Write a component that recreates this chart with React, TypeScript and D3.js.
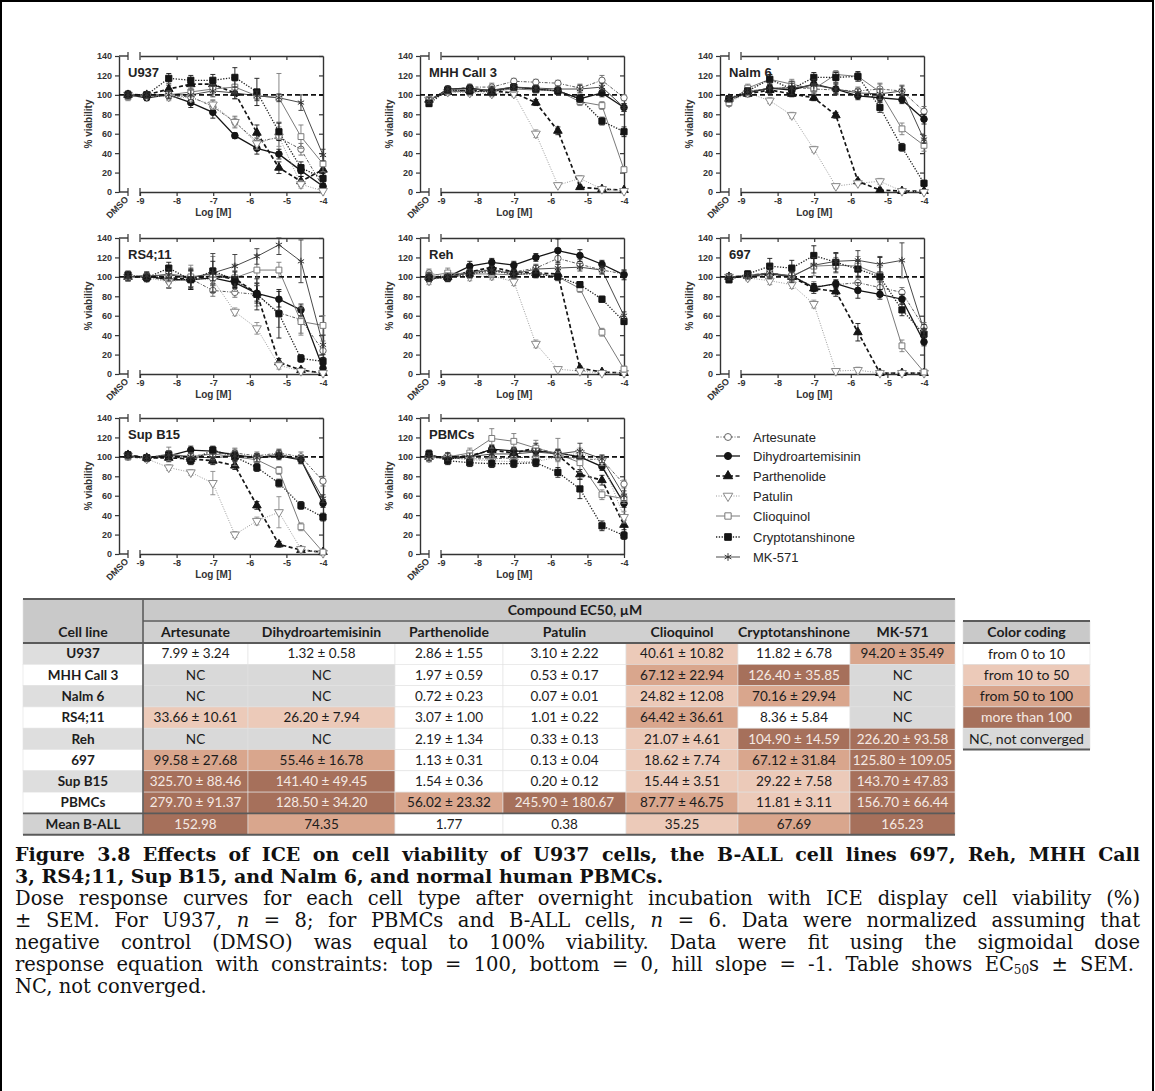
import React, { useRef, useEffect } from 'react';
import * as d3 from 'd3';

const W = 1155;
const H = 1091;

const compounds = ['Artesunate', 'Dihydroartemisinin', 'Parthenolide', 'Patulin', 'Clioquinol', 'Cryptotanshinone', 'MK-571'];
// log10 [M], 1:4 dilutions from 100 uM; the DMSO control sits before the axis break
const logDose = [-8.816, -8.214, -7.612, -7.01, -6.408, -5.806, -5.204, -4.602, -4.0];
const xTicks = [-9, -8, -7, -6, -5, -4];
const yTicks = [0, 20, 40, 60, 80, 100, 120, 140];
const panelNames = ['U937', 'MHH Call 3', 'Nalm 6', 'RS4;11', 'Reh', '697', 'Sup B15', 'PBMCs'];

// % viability, first value is DMSO, rows in `compounds` order
const u937 = [
  [101, 100, 99, 98, 88, 72, 52, 56, 44, 5],
  [100, 97, 100, 92, 82, 58, 45, 39, 22, 6],
  [100, 100, 106, 111, 111, 102, 61, 25, 11, 23],
  [100, 99, 98, 97, 90, 72, 50, 57, 8, 1],
  [98, 100, 100, 103, 106, 108, 99, 97, 57, 29],
  [100, 100, 117, 115, 115, 118, 103, 62, 25, 14],
  [100, 100, 100, 100, 104, 102, 99, 97, 92, 38],
];
const u937Sem = [
  [3, 2, 3, 4, 6, 6, 8, 15, 6, 4],
  [3, 3, 4, 5, 6, 3, 6, 5, 6, 3],
  [3, 3, 4, 5, 5, 6, 8, 6, 5, 6],
  [3, 3, 4, 4, 5, 4, 6, 10, 4, 2],
  [4, 3, 4, 5, 5, 6, 4, 25, 12, 8],
  [4, 3, 5, 5, 6, 10, 14, 9, 6, 5],
  [3, 3, 4, 5, 6, 6, 5, 4, 8, 6],
];
const mhhCall3 = [
  [95, 105, 108, 108, 114, 113, 112, 107, 115, 97],
  [94, 106, 107, 104, 108, 106, 104, 96, 102, 87],
  [95, 103, 105, 104, 102, 92, 63, 5, 3, 2],
  [95, 103, 102, 101, 101, 60, 7, 14, 3, 1],
  [95, 104, 103, 104, 106, 105, 104, 93, 89, 23],
  [91, 105, 104, 103, 108, 106, 104, 96, 73, 62],
  [94, 106, 106, 105, 108, 107, 106, 106, 108, 87],
];
const mhhCall3Sem = [
  [3, 3, 3, 4, 3, 3, 3, 4, 5, 3],
  [3, 3, 3, 4, 3, 3, 3, 4, 4, 4],
  [3, 3, 3, 3, 3, 3, 4, 2, 2, 1],
  [3, 3, 3, 3, 3, 4, 2, 3, 2, 1],
  [3, 3, 3, 4, 3, 3, 3, 4, 4, 3],
  [3, 3, 3, 4, 3, 3, 3, 4, 4, 5],
  [3, 3, 3, 4, 3, 3, 3, 4, 4, 4],
];
const nalm6 = [
  [93, 104, 106, 108, 106, 105, 104, 106, 104, 83],
  [96, 102, 107, 105, 111, 106, 99, 97, 95, 75],
  [96, 101, 105, 101, 97, 79, 11, 2, 1, 1],
  [92, 102, 94, 79, 44, 6, 9, 11, 1, 0],
  [92, 107, 116, 111, 106, 121, 119, 103, 65, 48],
  [96, 104, 116, 106, 118, 118, 119, 87, 46, 9],
  [96, 103, 107, 107, 110, 106, 102, 101, 104, 54],
];
const nalm6Sem = [
  [4, 3, 4, 5, 4, 4, 4, 6, 6, 5],
  [3, 3, 4, 5, 5, 5, 4, 4, 4, 5],
  [3, 3, 3, 3, 3, 3, 2, 1, 1, 1],
  [3, 3, 3, 3, 3, 2, 2, 3, 1, 1],
  [4, 4, 5, 5, 5, 4, 4, 8, 6, 6],
  [3, 3, 5, 6, 5, 5, 5, 5, 4, 3],
  [3, 3, 6, 7, 6, 6, 4, 5, 5, 4],
];
const rs411 = [
  [100, 100, 96, 98, 86, 84, 82, 63, 56, 24],
  [100, 101, 97, 97, 99, 94, 83, 77, 66, 6],
  [100, 100, 99, 98, 101, 98, 83, 12, 4, 1],
  [100, 99, 95, 98, 97, 64, 47, 9, 3, 1],
  [100, 100, 103, 100, 103, 99, 107, 107, 54, 50],
  [102, 99, 109, 97, 106, 97, 82, 62, 16, 13],
  [100, 101, 102, 99, 104, 111, 121, 133, 116, 30],
];
const rs411Sem = [
  [4, 4, 8, 10, 6, 5, 12, 15, 14, 10],
  [4, 4, 8, 10, 8, 6, 8, 8, 6, 3],
  [4, 4, 6, 8, 8, 8, 10, 4, 2, 1],
  [4, 4, 6, 8, 6, 4, 6, 4, 2, 1],
  [4, 4, 8, 12, 18, 14, 16, 8, 14, 10],
  [4, 4, 6, 10, 10, 8, 16, 25, 4, 4],
  [4, 4, 6, 10, 20, 12, 8, 10, 22, 10],
];
const reh = [
  [104, 100, 106, 107, 105, 109, 119, 113, 107, 103],
  [98, 100, 111, 115, 112, 120, 127, 122, 113, 102],
  [100, 100, 105, 110, 105, 104, 103, 6, 2, 1],
  [96, 101, 100, 101, 95, 31, 5, 3, 1, 1],
  [101, 104, 103, 103, 102, 104, 100, 88, 43, 5],
  [99, 99, 103, 106, 103, 103, 100, 92, 77, 54],
  [100, 100, 104, 107, 103, 108, 109, 110, 107, 60],
];
const rehSem = [
  [4, 4, 4, 4, 4, 4, 6, 5, 4, 4],
  [4, 4, 5, 4, 4, 4, 12, 6, 4, 5],
  [4, 4, 4, 4, 4, 4, 4, 2, 1, 1],
  [4, 4, 4, 4, 4, 4, 2, 1, 1, 1],
  [4, 5, 4, 4, 4, 4, 4, 4, 4, 3],
  [4, 4, 4, 4, 4, 4, 3, 3, 3, 3],
  [4, 4, 4, 4, 4, 4, 4, 4, 4, 4],
];
const line697 = [
  [100, 100, 102, 101, 90, 92, 94, 89, 84, 48],
  [99, 101, 103, 101, 89, 93, 86, 82, 77, 33],
  [100, 101, 104, 100, 88, 85, 43, 1, 1, 1],
  [100, 99, 96, 92, 72, 3, 4, 1, 1, 1],
  [100, 101, 104, 101, 111, 112, 111, 102, 29, 2],
  [97, 103, 111, 109, 122, 115, 108, 100, 66, 41],
  [100, 101, 104, 100, 112, 116, 117, 113, 117, 45],
];
const line697Sem = [
  [3, 3, 5, 5, 5, 4, 5, 6, 5, 5],
  [3, 3, 4, 4, 4, 4, 8, 5, 5, 4],
  [3, 3, 5, 4, 5, 5, 9, 1, 1, 1],
  [3, 3, 4, 4, 4, 1, 3, 1, 1, 1],
  [3, 3, 6, 6, 10, 8, 10, 8, 6, 2],
  [3, 3, 8, 8, 10, 10, 8, 20, 6, 6],
  [3, 3, 6, 6, 8, 8, 10, 8, 18, 6],
];
const supB15 = [
  [100, 98, 100, 101, 103, 104, 101, 104, 100, 75],
  [101, 99, 101, 107, 106, 102, 99, 101, 97, 52],
  [102, 99, 99, 98, 96, 91, 50, 10, 4, 2],
  [101, 98, 89, 84, 73, 20, 34, 43, 5, 1],
  [100, 99, 103, 100, 103, 100, 97, 86, 28, 2],
  [102, 99, 102, 96, 107, 100, 89, 73, 50, 38],
  [101, 99, 102, 100, 99, 101, 99, 103, 97, 57],
];
const supB15Sem = [
  [3, 3, 4, 4, 4, 4, 4, 4, 5, 5],
  [3, 3, 4, 4, 4, 4, 4, 4, 4, 4],
  [3, 3, 4, 4, 4, 4, 4, 3, 2, 1],
  [3, 3, 3, 3, 12, 3, 4, 16, 3, 1],
  [3, 3, 7, 4, 6, 9, 4, 4, 4, 2],
  [3, 3, 4, 4, 4, 4, 4, 4, 4, 4],
  [3, 3, 4, 4, 4, 4, 4, 4, 4, 4],
];
const pbmc = [
  [99, 99, 98, 98, 99, 100, 100, 98, 97, 72],
  [102, 98, 100, 108, 106, 106, 104, 100, 90, 52],
  [100, 100, 101, 107, 104, 109, 102, 82, 76, 30],
  [99, 99, 97, 96, 95, 95, 100, 104, 96, 38],
  [100, 100, 104, 119, 116, 109, 103, 94, 61, 57],
  [103, 96, 94, 93, 93, 94, 84, 67, 29, 19],
  [100, 100, 100, 103, 103, 105, 103, 106, 98, 60],
];
const pbmcSem = [
  [4, 4, 4, 4, 4, 4, 4, 4, 4, 4],
  [4, 4, 4, 4, 4, 4, 4, 4, 4, 4],
  [4, 4, 4, 5, 5, 5, 5, 5, 5, 5],
  [4, 4, 4, 5, 5, 5, 5, 5, 5, 6],
  [4, 4, 5, 10, 8, 8, 16, 10, 5, 5],
  [4, 4, 4, 4, 4, 4, 5, 10, 5, 4],
  [4, 4, 4, 4, 4, 4, 4, 8, 4, 5],
];
const panelValues = [u937, mhhCall3, nalm6, rs411, reh, line697, supB15, pbmc];
const panelSem = [u937Sem, mhhCall3Sem, nalm6Sem, rs411Sem, rehSem, line697Sem, supB15Sem, pbmcSem];

// EC50 table (uM); null = not converged
const tableRows = ['U937', 'MHH Call 3', 'Nalm 6', 'RS4;11', 'Reh', '697', 'Sup B15', 'PBMCs', 'Mean B-ALL'];
const ec50Mean = [
  [7.99, 1.32, 2.86, 3.1, 40.61, 11.82, 94.2],
  [null, null, 1.97, 0.53, 67.12, 126.4, null],
  [null, null, 0.72, 0.07, 24.82, 70.16, null],
  [33.66, 26.2, 3.07, 1.01, 64.42, 8.36, null],
  [null, null, 2.19, 0.33, 21.07, 104.9, 226.2],
  [99.58, 55.46, 1.13, 0.13, 18.62, 67.12, 125.8],
  [325.7, 141.4, 1.54, 0.2, 15.44, 29.22, 143.7],
  [279.7, 128.5, 56.02, 245.9, 87.77, 11.81, 156.7],
  [152.98, 74.35, 1.77, 0.38, 35.25, 67.69, 165.23],
];
const ec50Sem = [
  [3.24, 0.58, 1.55, 2.22, 10.82, 6.78, 35.49],
  [null, null, 0.59, 0.17, 22.94, 35.85, null],
  [null, null, 0.23, 0.01, 12.08, 29.94, null],
  [10.61, 7.94, 1.0, 0.22, 36.61, 5.84, null],
  [null, null, 1.34, 0.13, 4.61, 14.59, 93.58],
  [27.68, 16.78, 0.31, 0.04, 7.74, 31.84, 109.05],
  [88.46, 49.45, 0.36, 0.12, 3.51, 7.58, 47.83],
  [91.37, 34.2, 23.32, 180.67, 46.75, 3.11, 66.44],
  [null, null, null, null, null, null, null],
];
// colour band of each cell: 0 = 0-10, 1 = 10-50, 2 = 50-100, 3 = >100, 4 = NC
const ec50Band = ['0000102', '4400234', '4400124', '1100204', '4400133', '2200123', '3300113', '3323213', '3200123'];
const bandLabels = ['from 0 to 10', 'from 10 to 50', 'from 50 to 100', 'more than 100', 'NC, not converged'];

const bandFill = ['#ffffff', '#eccab9', '#d9a68d', '#a6705b', '#d9d9d9'];
const bandInk = ['#1c1c1c', '#1c1c1c', '#1c1c1c', '#f5e9e3', '#1c1c1c'];

const starSymbol = {
  draw(ctx, size) {
    const r = Math.sqrt(size) / 2 + 0.6;
    for (let i = 0; i < 3; i++) {
      const a = Math.PI / 2 + (i * Math.PI) / 3;
      ctx.moveTo(r * Math.cos(a), r * Math.sin(a));
      ctx.lineTo(-r * Math.cos(a), -r * Math.sin(a));
    }
  },
};

const looks = [
  { sym: d3.symbolCircle, size: 32, rot: 0, fill: '#fff', stroke: '#666', line: '#5c5c5c', dash: '3,1.5,1,1.5', lw: 1 },
  { sym: d3.symbolCircle, size: 34, rot: 0, fill: '#151515', stroke: '#151515', line: '#151515', dash: null, lw: 1.3 },
  { sym: d3.symbolTriangle, size: 32, rot: 0, fill: '#151515', stroke: '#151515', line: '#151515', dash: '4,2.5', lw: 1.7 },
  { sym: d3.symbolTriangle, size: 34, rot: 180, fill: '#fff', stroke: '#8a8a8a', line: '#9a9a9a', dash: '1,1.5', lw: 1 },
  { sym: d3.symbolSquare, size: 34, rot: 0, fill: '#fff', stroke: '#7a7a7a', line: '#7a7a7a', dash: null, lw: 1 },
  { sym: d3.symbolSquare, size: 38, rot: 0, fill: '#151515', stroke: '#151515', line: '#222', dash: '1.3,1.5', lw: 1.3 },
  { sym: starSymbol, size: 36, rot: 0, fill: 'none', stroke: '#333', line: '#4a4a4a', dash: null, lw: 1 },
];

const colX = [119, 420, 720];
const rowY = [56, 238, 418];
const plotH = 136;
const axisInk = '#333';
const chartFont = 'Liberation Sans, Arial, sans-serif';
const tableFont = 'Lato, sans-serif';
const capFont = 'DejaVu Serif, serif';

function drawPanel(root, k) {
  const x0 = colX[k % 3];
  const y0 = rowY[Math.floor(k / 3)];
  const yb = y0 + plotH;
  const x = d3.scaleLinear().domain([-9, -4]).range([x0 + 21, x0 + 204]);
  const xd = x0 + 9;
  const y = d3.scaleLinear().domain([0, 140]).range([yb, y0]);
  const g = root.append('g');

  const left = g.append('g').attr('transform', `translate(${x0},0)`)
    .call(d3.axisLeft(y).tickValues(yTicks).tickSize(4).tickSizeOuter(0).tickFormat((d) => String(d)));
  const right = g.append('g').attr('transform', `translate(${x(-4)},0)`)
    .call(d3.axisLeft(y).tickValues(yTicks).tickSize(4).tickSizeOuter(0).tickFormat(() => ''));
  const bottom = g.append('g').attr('transform', `translate(0,${yb})`)
    .call(d3.axisBottom(x).tickValues(xTicks).tickSize(4).tickSizeOuter(0).tickFormat((d) => String(d)));
  const top = g.append('g').attr('transform', `translate(0,${y0})`)
    .call(d3.axisBottom(x).tickValues(xTicks.slice(1, -1)).tickSize(4).tickSizeOuter(0).tickFormat(() => ''));
  [left, right, bottom, top].forEach((a) => {
    a.select('.domain').attr('stroke', axisInk).attr('stroke-width', 1.4);
    a.selectAll('.tick line').attr('stroke', axisInk).attr('stroke-width', 1.2);
    a.selectAll('.tick text').attr('fill', axisInk).attr('font-family', chartFont)
      .attr('font-weight', 'bold').attr('font-size', 9);
  });
  bottom.selectAll('.tick text').attr('dy', '0.55em');

  // DMSO stub and axis break bars
  [y0, yb].forEach((yy) => {
    g.append('line').attr('x1', x0).attr('x2', xd).attr('y1', yy).attr('y2', yy)
      .attr('stroke', axisInk).attr('stroke-width', 1.4);
    [xd, x(-9)].forEach((xx) => {
      g.append('line').attr('x1', xx).attr('x2', xx).attr('y1', yy - 4).attr('y2', yy + 4)
        .attr('stroke', axisInk).attr('stroke-width', 1.2);
    });
  });

  g.append('text').attr('transform', `translate(${xd + 1},${yb + 8}) rotate(-45)`)
    .attr('text-anchor', 'end').attr('font-family', chartFont).attr('font-weight', 'bold')
    .attr('font-size', 9).attr('fill', axisInk).text('DMSO');
  g.append('text').attr('x', x(-7)).attr('y', yb + 23.5).attr('text-anchor', 'middle')
    .attr('font-family', chartFont).attr('font-weight', 'bold').attr('font-size', 10)
    .attr('fill', axisInk).text('Log [M]');
  g.append('text').attr('transform', `translate(${x0 - 27},${y0 + plotH / 2}) rotate(-90)`)
    .attr('text-anchor', 'middle').attr('font-family', chartFont).attr('font-weight', 'bold')
    .attr('font-size', 10).attr('fill', axisInk).text('% viability');
  g.append('text').attr('x', x0 + 9).attr('y', y0 + 21).attr('font-family', chartFont)
    .attr('font-weight', 'bold').attr('font-size', 13).attr('fill', '#222').text(panelNames[k]);

  const xs = [xd, ...logDose.map((d) => x(d))];
  const vals = panelValues[k];
  const sems = panelSem[k];
  const lineGen = d3.line();

  vals.forEach((row, s) => {
    const lk = looks[s];
    g.append('path').attr('d', lineGen(row.map((v, i) => [xs[i], y(v)])))
      .attr('fill', 'none').attr('stroke', lk.line).attr('stroke-width', lk.lw)
      .attr('stroke-dasharray', lk.dash);
  });

  g.append('line').attr('x1', x0).attr('x2', x(-4)).attr('y1', y(100)).attr('y2', y(100))
    .attr('stroke', '#111').attr('stroke-width', 1.6).attr('stroke-dasharray', '5,3');

  vals.forEach((row, s) => {
    const lk = looks[s];
    const eg = g.append('g').attr('stroke', lk.stroke).attr('stroke-width', 0.9);
    row.forEach((v, i) => {
      const e = sems[s][i];
      const lo = y(Math.max(0, v - e));
      const hi = y(Math.min(140, v + e));
      eg.append('line').attr('x1', xs[i]).attr('x2', xs[i]).attr('y1', lo).attr('y2', hi);
      eg.append('line').attr('x1', xs[i] - 2.5).attr('x2', xs[i] + 2.5).attr('y1', hi).attr('y2', hi);
      eg.append('line').attr('x1', xs[i] - 2.5).attr('x2', xs[i] + 2.5).attr('y1', lo).attr('y2', lo);
    });
    const path = d3.symbol().type(lk.sym).size(lk.size)();
    g.append('g').selectAll('path').data(row).join('path')
      .attr('d', path)
      .attr('transform', (v, i) => `translate(${xs[i]},${y(v)}) rotate(${lk.rot})`)
      .attr('fill', lk.fill).attr('stroke', lk.stroke).attr('stroke-width', 1);
  });
}

function drawLegend(root) {
  const lx = 716;
  const rows = [437, 456, 476, 496, 516, 537, 557];
  compounds.forEach((name, s) => {
    const lk = looks[s];
    const yy = rows[s];
    root.append('line').attr('x1', lx).attr('x2', lx + 24).attr('y1', yy).attr('y2', yy)
      .attr('stroke', lk.line).attr('stroke-width', lk.lw).attr('stroke-dasharray', lk.dash);
    root.append('path').attr('d', d3.symbol().type(lk.sym).size(lk.size + 6)())
      .attr('transform', `translate(${lx + 12},${yy}) rotate(${lk.rot})`)
      .attr('fill', lk.fill).attr('stroke', lk.stroke).attr('stroke-width', 1);
    root.append('text').attr('x', lx + 37).attr('y', yy).attr('dy', '0.36em')
      .attr('font-family', chartFont).attr('font-size', 13).attr('fill', '#262626').text(name);
  });
}

function drawTable(root) {
  const cx = [23, 143, 248, 395, 503, 626, 738, 850, 955];
  const top = 599;
  const h1 = 22;
  const h2 = 22;
  const rh = 21.3;
  const bodyTop = top + h1 + h2;
  const fmt = d3.format('.2f');
  const t = root.append('g').attr('font-family', tableFont);
  const cell = (x1, x2, yy, hh, fill) => t.append('rect').attr('x', x1).attr('y', yy)
    .attr('width', x2 - x1).attr('height', hh).attr('fill', fill).attr('stroke', '#e2e2e2').attr('stroke-width', 0.6);
  const label = (xm, yy, txt, opts = {}) => t.append('text').attr('x', xm).attr('y', yy).attr('dy', '0.35em')
    .attr('text-anchor', 'middle').attr('font-size', opts.size || 13.5)
    .attr('font-weight', opts.bold ? 'bold' : 'normal').attr('fill', opts.ink || '#1c1c1c').text(txt);

  cell(cx[0], cx[1], top, h1 + h2, '#c9c9c9');
  cell(cx[1], cx[8], top, h1, '#c9c9c9');
  cell(cx[1], cx[8], top + h1, h2, '#d0d0d0');
  label((cx[0] + cx[1]) / 2, top + h1 + h2 / 2, 'Cell line', { bold: true, size: 14 });
  label(cx[4] + 72, top + h1 / 2, 'Compound EC50, \u00b5M', { bold: true, size: 14 });
  compounds.forEach((c, j) => label((cx[j + 1] + cx[j + 2]) / 2, top + h1 + h2 / 2, c, { bold: true, size: 14 }));

  tableRows.forEach((name, i) => {
    const yy = bodyTop + i * rh;
    const last = i === tableRows.length - 1;
    cell(cx[0], cx[1], yy, rh, last ? '#d2d2d2' : i % 2 === 0 ? '#dedede' : '#ffffff');
    label((cx[0] + cx[1]) / 2, yy + rh / 2, name, { bold: true });
    compounds.forEach((c, j) => {
      const band = +ec50Band[i][j];
      cell(cx[j + 1], cx[j + 2], yy, rh, bandFill[band]);
      const m = ec50Mean[i][j];
      const e = ec50Sem[i][j];
      const txt = m == null ? 'NC' : e == null ? fmt(m) : `${fmt(m)} \u00b1 ${fmt(e)}`;
      label((cx[j + 1] + cx[j + 2]) / 2, yy + rh / 2, txt, { ink: bandInk[band] });
    });
  });
  const bottomY = bodyTop + tableRows.length * rh;
  const rule = (x1, x2, y1, y2, w) => t.append('line').attr('x1', x1).attr('x2', x2).attr('y1', y1).attr('y2', y2)
    .attr('stroke', '#5a5a5a').attr('stroke-width', w);
  rule(cx[0], cx[8], top, top, 2);
  rule(cx[1], cx[8], top + h1, top + h1, 1.6);
  rule(cx[0], cx[8], bodyTop, bodyTop, 2);
  rule(cx[0], cx[8], bottomY - rh, bottomY - rh, 1.6);
  rule(cx[0], cx[8], bottomY, bottomY, 2);
  rule(cx[1], cx[1], top, bottomY, 1.6);

  // colour coding key
  const kx1 = 963;
  const kx2 = 1090;
  const ktop = top + h1;
  cell(kx1, kx2, ktop, h2, '#c9c9c9');
  label((kx1 + kx2) / 2, ktop + h2 / 2, 'Color coding', { bold: true, size: 14 });
  bandLabels.forEach((b, i) => {
    const yy = bodyTop + i * rh;
    cell(kx1, kx2, yy, rh, bandFill[i]);
    label((kx1 + kx2) / 2, yy + rh / 2, b, { ink: bandInk[i], size: 14 });
  });
  rule(kx1, kx2, ktop, ktop, 2);
  rule(kx1, kx2, bodyTop, bodyTop, 2);
  rule(kx1, kx2, bodyTop + 5 * rh, bodyTop + 5 * rh, 2);
}

// stretch a line to the full measure by widening its word gaps
function justify(tx, width) {
  const n = (tx.text().match(/ /g) || []).length;
  const natural = tx.node().getComputedTextLength();
  if (n > 0 && natural < width) tx.attr('word-spacing', (width - natural) / n);
}

function drawCaption(root) {
  const x1 = 15;
  const width = 1125;
  const g = root.append('g').attr('font-family', capFont).attr('fill', '#111');
  const titleLines = [
    'Figure 3.8 Effects of ICE on cell viability of U937 cells, the B-ALL cell lines 697, Reh, MHH Call',
    '3, RS4;11, Sup B15, and Nalm 6, and normal human PBMCs.',
  ];
  const titleY = [861, 883];
  titleLines.forEach((ln, i) => {
    const tx = g.append('text').attr('x', x1).attr('y', titleY[i]).attr('font-weight', 'bold')
      .attr('font-size', 19).text(ln);
    if (i === 0) justify(tx, width);
  });
  const body = [
    [{ t: 'Dose response curves for each cell type after overnight incubation with ICE display cell viability (%)' }],
    [{ t: '\u00b1 SEM. For U937, ' }, { t: 'n', i: true }, { t: ' = 8; for PBMCs and B-ALL cells, ' }, { t: 'n', i: true },
      { t: ' = 6. Data were normalized assuming that' }],
    [{ t: 'negative control (DMSO) was equal to 100% viability. Data were fit using the sigmoidal dose' }],
    [{ t: 'response equation with constraints:  top = 100, bottom = 0, hill slope = -1. Table shows EC' },
      { t: '50', sub: true }, { t: 's \u00b1 SEM.' }],
    [{ t: 'NC, not converged.' }],
  ];
  const bodyY = [905, 927, 949, 971, 993];
  body.forEach((segs, i) => {
    const tx = g.append('text').attr('x', x1).attr('y', bodyY[i]).attr('font-size', 19.5);
    let shifted = false;
    segs.forEach((s) => {
      const sp = tx.append('tspan').text(s.t);
      if (s.i) sp.attr('font-style', 'italic');
      if (s.sub) { sp.attr('font-size', 12).attr('dy', 3); shifted = true; }
      else if (shifted) { sp.attr('dy', -3); shifted = false; }
    });
    if (i < body.length - 1) justify(tx, width);
  });
}

const App = () => {
  const ref = useRef(null);

  useEffect(() => {
    const svg = d3.select(ref.current);
    svg.selectAll('*').remove();
    svg.append('rect').attr('width', W).attr('height', H).attr('fill', '#fff');
    svg.append('rect').attr('x', 1).attr('y', 1).attr('width', W - 3).attr('height', H + 10)
      .attr('fill', 'none').attr('stroke', '#000').attr('stroke-width', 2);
    panelNames.forEach((_, k) => drawPanel(svg, k));
    drawLegend(svg);
    drawTable(svg);
    drawCaption(svg);
  }, []);

  return (
    <svg ref={ref} width={W} height={H} style={{ position: 'absolute', left: 0, top: 0, display: 'block' }} />
  );
};

export default App;
